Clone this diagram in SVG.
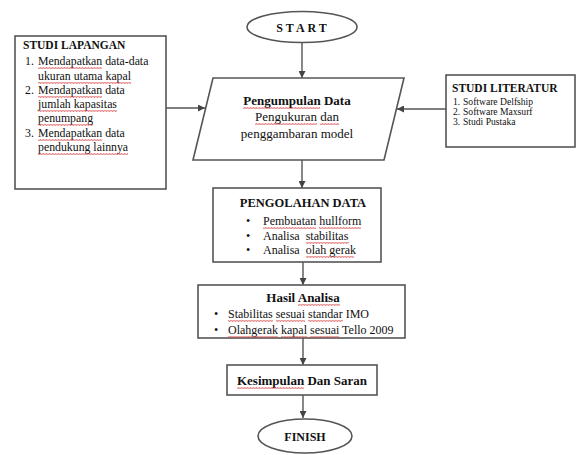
<svg xmlns="http://www.w3.org/2000/svg" width="579" height="455" viewBox="0 0 579 455">
<style>
.bx{fill:#fff;stroke:#555;stroke-width:1.6}
.ln{stroke:#555;stroke-width:1.4;fill:none}
text{font-family:"Liberation Serif","Times New Roman",serif;fill:#111}
.t{font-size:13px}
.m{font-size:12px}
.l{font-size:11.8px}
.b{font-weight:bold}
.c{text-anchor:middle}
.s{font-size:9.6px}
.u{fill:url(#sq)}
</style>
<defs>
<marker id="ar" viewBox="0 0 8 8" refX="8" refY="4" markerWidth="7" markerHeight="7" orient="auto" markerUnits="userSpaceOnUse">
<path d="M0,0 L8,4 L0,8 z" fill="#444"/>
</marker>
<pattern id="sq" width="3" height="2" patternUnits="userSpaceOnUse">
<path d="M0,1.6 L0.75,0.4 L1.5,1.6 L2.25,0.4 L3,1.6" fill="none" stroke="#d94040" stroke-width="0.7"/>
</pattern>
</defs>
<rect width="579" height="455" fill="#fff"/>
<g id="connectors">
<line class="ln" x1="302" y1="43" x2="302" y2="78" marker-end="url(#ar)"/>
<line class="ln" x1="166" y1="108" x2="205" y2="108" marker-end="url(#ar)"/>
<line class="ln" x1="446" y1="109" x2="397" y2="109" marker-end="url(#ar)"/>
<line class="ln" x1="302" y1="160" x2="302" y2="188" marker-end="url(#ar)"/>
<line class="ln" x1="303" y1="262" x2="303" y2="285" marker-end="url(#ar)"/>
<line class="ln" x1="303" y1="338" x2="303" y2="365" marker-end="url(#ar)"/>
<line class="ln" x1="303" y1="395" x2="303" y2="418" marker-end="url(#ar)"/>
</g>
<g id="start">
<ellipse class="bx" cx="302" cy="27" rx="55" ry="15.5"/>
<text class="b c" x="303" y="32" font-size="12" letter-spacing="3">START</text>
</g>
<g id="pengumpulan">
<polygon class="bx" points="213,78 404,78 384,160 193,160"/>
<text class="t b c" x="297" y="105">Pengumpulan Data</text>
<text class="t c" x="297" y="121">Pengukuran dan</text>
<text class="t c" x="297" y="138">penggambaran model</text>
<rect class="u" x="243" y="107" width="77" height="2"/>
<rect class="u" x="255" y="123" width="62" height="2"/>
<rect class="u" x="320" y="123" width="19" height="2"/>
</g>
<g id="studi-lapangan">
<rect class="bx" x="15" y="36" width="151" height="153"/>
<text class="b" x="23" y="49" font-size="11.5">STUDI LAPANGAN</text>
<text class="l" x="25" y="65">1.</text>
<text class="l" x="38" y="65">Mendapatkan data-data</text>
<text class="l" x="38" y="80">ukuran utama kapal</text>
<text class="l" x="25" y="94">2.</text>
<text class="l" x="38" y="94">Mendapatkan data</text>
<text class="l" x="38" y="108">jumlah kapasitas</text>
<text class="l" x="38" y="122">penumpang</text>
<text class="l" x="25" y="137">3.</text>
<text class="l" x="38" y="137">Mendapatkan data</text>
<text class="l" x="38" y="151">pendukung lainnya</text>
<rect class="u" x="38" y="67" width="64" height="2"/>
<rect class="u" x="38" y="82" width="93" height="2"/>
<rect class="u" x="38" y="96" width="64" height="2"/>
<rect class="u" x="38" y="110" width="79" height="2"/>
<rect class="u" x="38" y="124" width="55" height="2"/>
<rect class="u" x="38" y="139" width="64" height="2"/>
<rect class="u" x="38" y="153" width="90" height="2"/>
</g>
<g id="studi-literatur">
<rect class="bx" x="446" y="75" width="129" height="72"/>
<text class="b" x="452" y="92" font-size="11.5">STUDI LITERATUR</text>
<text class="s" x="453" y="105">1.</text>
<text class="s" x="463" y="105">Software Delfship</text>
<text class="s" x="453" y="115">2.</text>
<text class="s" x="463" y="115">Software Maxsurf</text>
<text class="s" x="453" y="125">3.</text>
<text class="s" x="463" y="125">Studi Pustaka</text>
</g>
<g id="pengolahan">
<rect class="bx" x="213" y="188" width="168" height="74"/>
<text class="b c" x="303" y="207" font-size="12.5">PENGOLAHAN DATA</text>
<text class="m" x="246" y="225">•</text>
<text class="m" x="263" y="225">Pembuatan hullform</text>
<text class="m" x="246" y="240">•</text>
<text class="m" x="263" y="240" xml:space="preserve">Analisa  stabilitas</text>
<text class="m" x="246" y="254">•</text>
<text class="m" x="263" y="254" xml:space="preserve">Analisa  olah gerak</text>
<rect class="u" x="263" y="227" width="53" height="2"/>
<rect class="u" x="319" y="227" width="42" height="2"/>
<rect class="u" x="306" y="242" width="43" height="2"/>
<rect class="u" x="306" y="256" width="48" height="2"/>
</g>
<g id="hasil">
<rect class="bx" x="198" y="285" width="207" height="53"/>
<text class="t b c" x="303" y="302">Hasil Analisa</text>
<text class="m" x="214" y="318">•</text>
<text class="m" x="228" y="318">Stabilitas sesuai standar IMO</text>
<text class="m" x="214" y="334">•</text>
<text class="m" x="228" y="334">Olahgerak kapal sesuai Tello 2009</text>
<rect class="u" x="298" y="304" width="42" height="2"/>
<rect class="u" x="228" y="320" width="45" height="2"/>
<rect class="u" x="276" y="320" width="29" height="2"/>
<rect class="u" x="308" y="320" width="35" height="2"/>
<rect class="u" x="228" y="336" width="50" height="2"/>
<rect class="u" x="281" y="336" width="26" height="2"/>
<rect class="u" x="310" y="336" width="29" height="2"/>
</g>
<g id="kesimpulan">
<rect class="bx" x="227" y="365" width="150" height="30"/>
<text class="t b c" x="302" y="385">Kesimpulan Dan Saran</text>
<rect class="u" x="237" y="387" width="67" height="2"/>
</g>
<g id="finish">
<ellipse class="bx" cx="305" cy="436" rx="47" ry="17"/>
<text class="b c" x="305" y="441" font-size="12">FINISH</text>
</g>
</svg>
